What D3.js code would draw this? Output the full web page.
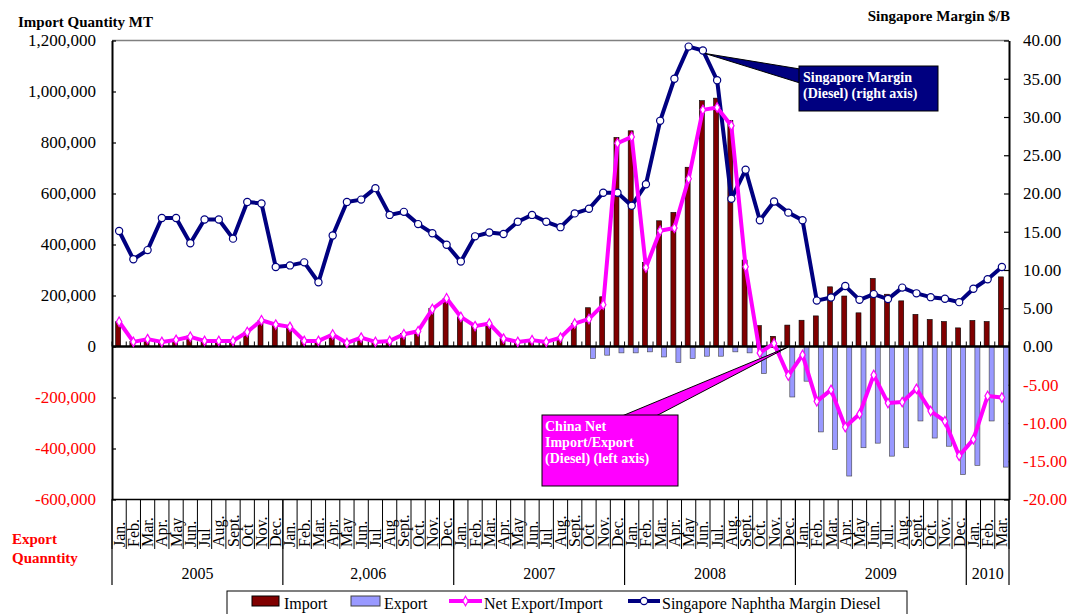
<!DOCTYPE html>
<html>
<head>
<meta charset="utf-8">
<script src="https://cdnjs.cloudflare.com/ajax/libs/d3/7.8.5/d3.min.js"></script>
<style>
body { margin: 0; background: #fff; }
svg { font-family: "Liberation Serif", "Times New Roman", serif; }
</style>
</head>
<body>
<svg id="chart" width="1072" height="614"></svg>
<script>
// data, Jan 2005 - Mar 2010
var months = ["Jan.","Feb.","Mar.","Apr.","May","Jun.","Jul","Aug.","Sept.","Oct","Nov.","Dec.",
              "Jan.","Feb.","Mar.","Apr.","May","Jun.","Jul","Aug","Sept.","Oct.","Nov.","Dec.",
              "Jan.","Feb.","Mar.","Apr.","May","Jun.","Jul","Aug.","Sept.","Oct","Nov.","Dec.",
              "Jan.","Feb.","Mar.","Apr.","May","Jun.","Jul.","Aug.","Sept.","Oct.","Nov.","Dec.",
              "Jan.","Feb.","Mar.","Apr.","May","Jun.","Jul.","Aug.","Sept.","Oct.","Nov.","Dec.",
              "Jan.","Feb.","Mar."];
var years = ["2005","2,006","2007","2008","2009","2010"];
var yearCounts = [12,12,12,12,12,3];

var importQty = [97000,20000,30000,19000,27000,41000,25000,25000,23000,57000,103000,86000,
                 77000,23000,25000,47000,15000,35000,19000,23000,51000,63000,150000,189000,
                 116000,82000,90000,31000,18000,25000,18000,36000,90000,152000,195000,820000,
                 846000,330000,493000,526000,703000,964000,974000,886000,339000,82000,40000,84000,
                 103000,120000,234000,198000,132000,267000,205000,179000,126000,106000,98000,73000,
                 102000,98000,273000];
var exportQty = [0,0,0,0,0,-3000,-3000,-3000,0,0,0,0,
                 0,0,-3000,0,0,0,0,0,-3000,-3000,-3000,0,
                 0,0,0,0,0,0,0,0,0,-47000,-34000,-25000,
                 -25000,-21000,-41000,-63000,-47000,-38000,-38000,-21000,-25000,-106000,-28000,-198000,
                 -136000,-335000,-404000,-508000,-397000,-379000,-430000,-397000,-292000,-359000,-391000,-502000,
                 -466000,-292000,-473000];
var netQty = [97000,18000,29000,18000,26000,38000,22000,22000,22000,57000,103000,86000,
              77000,22000,22000,47000,14000,35000,18000,22000,48000,60000,147000,189000,
              116000,80000,90000,31000,18000,25000,18000,35000,90000,108000,164000,797000,
              822000,310000,454000,465000,658000,928000,937000,866000,313000,-25000,12000,-114000,
              -33000,-215000,-170000,-316000,-265000,-112000,-222000,-218000,-166000,-253000,-293000,-429000,
              -364000,-194000,-200000];
var sgMargin = [15.1,11.4,12.6,16.8,16.8,13.5,16.6,16.6,14.1,18.9,18.7,10.4,
                10.6,11.0,8.4,14.5,18.9,19.2,20.7,17.2,17.6,16.0,14.8,13.3,
                11.1,14.4,14.9,14.7,16.3,17.2,16.3,15.6,17.4,18.0,20.1,20.1,
                18.4,21.2,29.5,35.0,39.2,38.7,34.8,19.3,23.1,16.5,18.95,17.5,
                16.5,6.0,6.4,7.9,6.1,6.85,6.2,7.7,6.95,6.45,6.25,5.8,
                7.55,8.8,10.4];

var leftTicks = [1200000,1000000,800000,600000,400000,200000,0,-200000,-400000,-600000];
var rightTicks = [40,35,30,25,20,15,10,5,0,-5,-10,-15,-20];

var plotLeft = 112, plotRight = 1009, plotTop = 40.5, plotBottom = 499.5;
var svg = d3.select("#chart");

var x = d3.scaleBand().domain(d3.range(months.length)).range([plotLeft, plotRight]);
var bw = x.bandwidth();
var cx = function(i){ return x(i) + bw / 2; };
var yL = d3.scaleLinear().domain([-600000, 1200000]).range([plotBottom, plotTop]);
var yR = d3.scaleLinear().domain([-20, 40]).range([plotBottom, plotTop]);

// plain hyphen for negatives, like the original
var fmtL = function(d){ return d3.format(",")(d).replace("\u2212", "-"); };
var fmtR = function(d){ return d3.format(".2f")(d).replace("\u2212", "-"); };

// frame
svg.append("line").attr("x1", plotLeft).attr("x2", plotRight).attr("y1", plotTop).attr("y2", plotTop)
    .attr("stroke", "#808080").attr("stroke-width", 1.5);
svg.append("line").attr("x1", plotLeft).attr("x2", plotRight).attr("y1", plotBottom).attr("y2", plotBottom)
    .attr("stroke", "#000").attr("stroke-width", 1.5);

// axes
var axL = svg.append("g").attr("transform", "translate(" + plotLeft + ",0)")
    .call(d3.axisLeft(yL).tickValues(leftTicks).tickSize(-4).tickSizeOuter(0).tickPadding(16).tickFormat(fmtL));
var axR = svg.append("g").attr("transform", "translate(" + plotRight + ",0)")
    .call(d3.axisRight(yR).tickValues(rightTicks).tickSize(-5).tickSizeOuter(0).tickPadding(14).tickFormat(fmtR));
[axL, axR].forEach(function(ax){
    ax.select(".domain").attr("stroke", "#000").attr("stroke-width", 2);
    ax.selectAll(".tick line").attr("stroke", "#000").attr("stroke-width", 1.2);
    ax.selectAll("text").attr("font-size", 17).attr("font-family", "Liberation Serif")
        .attr("fill", function(d){ return d < 0 ? "#ff0000" : "#000"; });
});

// bars
svg.append("g").selectAll("rect").data(importQty).enter().append("rect")
    .attr("x", function(d, i){ return cx(i) - 3.5; })
    .attr("y", function(d){ return yL(d); })
    .attr("width", 5)
    .attr("height", function(d){ return yL(0) - yL(d); })
    .attr("fill", "#800000").attr("stroke", "#000").attr("stroke-width", 0.6);
svg.append("g").selectAll("rect").data(exportQty).enter().append("rect")
    .attr("x", function(d, i){ return cx(i) + 1.5; })
    .attr("y", yL(0))
    .attr("width", 5)
    .attr("height", function(d){ return yL(d) - yL(0); })
    .attr("fill", "#9999ff").attr("stroke", "#404040").attr("stroke-width", 0.6);

// category axis at zero
var y0 = yL(0);
svg.append("line").attr("x1", plotLeft).attr("x2", plotRight).attr("y1", y0).attr("y2", y0)
    .attr("stroke", "#000").attr("stroke-width", 2.5);
svg.append("g").selectAll("line").data(d3.range(months.length + 1)).enter().append("line")
    .attr("x1", function(i){ return plotLeft + i * bw; }).attr("x2", function(i){ return plotLeft + i * bw; })
    .attr("y1", y0).attr("y2", y0 - 5)
    .attr("stroke", "#000").attr("stroke-width", 1);

// lines
var sgLine = d3.line().x(function(d, i){ return cx(i); }).y(function(d){ return yR(d); });
var netLine = d3.line().x(function(d, i){ return cx(i); }).y(function(d){ return yL(d); });

svg.append("path").datum(sgMargin).attr("d", sgLine)
    .attr("fill", "none").attr("stroke", "#000080").attr("stroke-width", 4).attr("stroke-linejoin", "round");
svg.append("g").selectAll("circle").data(sgMargin).enter().append("circle")
    .attr("cx", function(d, i){ return cx(i); }).attr("cy", function(d){ return yR(d); })
    .attr("r", 3.6).attr("fill", "#fff").attr("stroke", "#000080").attr("stroke-width", 1.2);

svg.append("path").datum(netQty).attr("d", netLine)
    .attr("fill", "none").attr("stroke", "#ff00ff").attr("stroke-width", 4).attr("stroke-linejoin", "round");
svg.append("g").selectAll("path").data(netQty).enter().append("path")
    .attr("d", d3.symbol().type(d3.symbolDiamond).size(26))
    .attr("transform", function(d, i){ return "translate(" + cx(i) + "," + yL(d) + ")"; })
    .attr("fill", "#fff").attr("stroke", "#ff00ff").attr("stroke-width", 1.2);

// month / year labels under the plot
var cat = svg.append("g");
cat.selectAll("line.m").data(d3.range(months.length + 1)).enter().append("line")
    .attr("x1", function(i){ return plotLeft + i * bw; }).attr("x2", function(i){ return plotLeft + i * bw; })
    .attr("y1", plotBottom).attr("y2", 549)
    .attr("stroke", "#000").attr("stroke-width", 1);
cat.selectAll("text.m").data(months).enter().append("text")
    .attr("transform", function(d, i){ return "translate(" + (cx(i) + 5.5) + ",547) rotate(-90)"; })
    .attr("font-size", 16).attr("fill", "#000").text(function(d){ return d; });

var starts = [0];
yearCounts.forEach(function(c, k){ starts.push(starts[k] + c); });
cat.selectAll("line.y").data(starts).enter().append("line")
    .attr("x1", function(s){ return plotLeft + s * bw; }).attr("x2", function(s){ return plotLeft + s * bw; })
    .attr("y1", plotBottom).attr("y2", 585)
    .attr("stroke", "#000").attr("stroke-width", 1.2);
cat.selectAll("text.y").data(years).enter().append("text")
    .attr("x", function(d, k){ return plotLeft + (starts[k] + yearCounts[k] / 2) * bw; })
    .attr("y", 579).attr("text-anchor", "middle").attr("font-size", 16).text(function(d){ return d; });

// axis titles
svg.append("text").attr("x", 18).attr("y", 27).attr("font-size", 15).attr("font-weight", "bold").text("Import Quantity MT");
svg.append("text").attr("x", 1010).attr("y", 21).attr("text-anchor", "end").attr("font-size", 15).attr("font-weight", "bold").text("Singapore Margin $/B");
svg.append("text").attr("x", 12).attr("y", 544).attr("font-size", 15).attr("font-weight", "bold").attr("fill", "#ff0000").text("Export");
svg.append("text").attr("x", 12).attr("y", 563).attr("font-size", 15).attr("font-weight", "bold").attr("fill", "#ff0000").text("Quanntity");

// callouts
var c1 = svg.append("g");
c1.append("polygon").attr("points", [[cx(41) + 2, yR(sgMargin[41]) + 3], [800, 69], [800, 83]].join(" "))
    .attr("fill", "#000080").attr("stroke", "#000").attr("stroke-width", 1);
c1.append("rect").attr("x", 799).attr("y", 66).attr("width", 139).attr("height", 45)
    .attr("fill", "#000080").attr("stroke", "#000").attr("stroke-width", 1);
c1.append("text").attr("x", 803).attr("y", 82).attr("font-size", 14).attr("font-weight", "bold").attr("fill", "#fff").text("Singapore Margin");
c1.append("text").attr("x", 803).attr("y", 98).attr("font-size", 14).attr("font-weight", "bold").attr("fill", "#fff").text("(Diesel) (right axis)");

var c2 = svg.append("g");
c2.append("polygon").attr("points", [[622, 416], [788, 347], [656, 416]].join(" "))
    .attr("fill", "#ff00ff").attr("stroke", "#000").attr("stroke-width", 1);
c2.append("rect").attr("x", 542).attr("y", 415).attr("width", 136).attr("height", 71)
    .attr("fill", "#ff00ff").attr("stroke", "#000").attr("stroke-width", 1);
c2.append("text").attr("x", 545).attr("y", 431).attr("font-size", 14).attr("font-weight", "bold").attr("fill", "#fff").text("China Net");
c2.append("text").attr("x", 545).attr("y", 447).attr("font-size", 14).attr("font-weight", "bold").attr("fill", "#fff").text("Import/Export");
c2.append("text").attr("x", 545).attr("y", 463).attr("font-size", 14).attr("font-weight", "bold").attr("fill", "#fff").text("(Diesel) (left axis)");

// legend
var lg = svg.append("g");
lg.append("rect").attr("x", 227).attr("y", 591).attr("width", 680).attr("height", 30)
    .attr("fill", "#fff").attr("stroke", "#000").attr("stroke-width", 1);
lg.append("rect").attr("x", 252).attr("y", 596).attr("width", 27).attr("height", 10)
    .attr("fill", "#800000").attr("stroke", "#000").attr("stroke-width", 1);
lg.append("text").attr("x", 284).attr("y", 609).attr("font-size", 16).text("Import");
lg.append("rect").attr("x", 351).attr("y", 596).attr("width", 29).attr("height", 10)
    .attr("fill", "#9999ff").attr("stroke", "#404040").attr("stroke-width", 1);
lg.append("text").attr("x", 384).attr("y", 609).attr("font-size", 16).text("Export");
lg.append("line").attr("x1", 449).attr("x2", 482).attr("y1", 601).attr("y2", 601)
    .attr("stroke", "#ff00ff").attr("stroke-width", 4);
lg.append("path").attr("d", d3.symbol().type(d3.symbolDiamond).size(26)).attr("transform", "translate(465.5,601)")
    .attr("fill", "#fff").attr("stroke", "#ff00ff").attr("stroke-width", 1.2);
lg.append("text").attr("x", 484).attr("y", 609).attr("font-size", 16).text("Net Export/Import");
lg.append("line").attr("x1", 628).attr("x2", 660).attr("y1", 601).attr("y2", 601)
    .attr("stroke", "#000080").attr("stroke-width", 4);
lg.append("circle").attr("cx", 644).attr("cy", 601).attr("r", 3.6)
    .attr("fill", "#fff").attr("stroke", "#000080").attr("stroke-width", 1.2);
lg.append("text").attr("x", 662).attr("y", 609).attr("font-size", 16).text("Singapore Naphtha Margin Diesel");
</script>
</body>
</html>
